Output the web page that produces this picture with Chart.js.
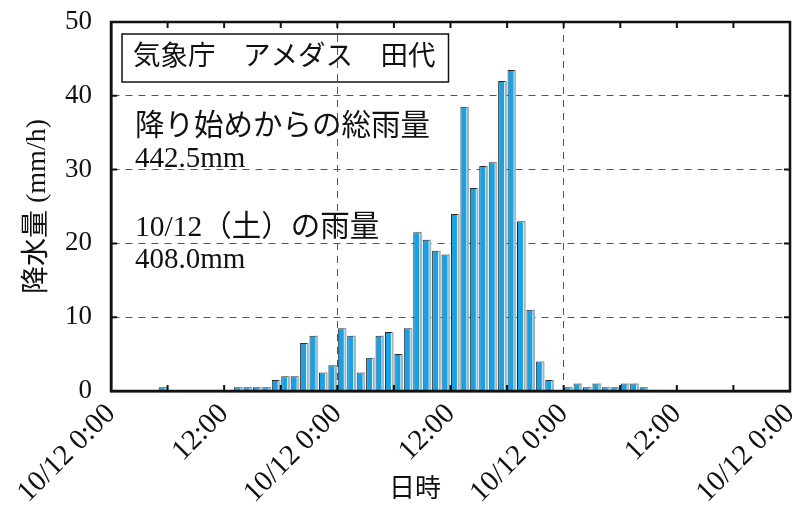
<!DOCTYPE html>
<html lang="ja">
<head>
<meta charset="utf-8">
<title>気象庁 アメダス 田代</title>
<script src="https://cdn.jsdelivr.net/npm/chart.js@4.4.0/dist/chart.umd.min.js"></script>
<style>
    html, body { margin: 0; padding: 0; background: #fff; }
</style>
</head>
<body>
<canvas id="graficoLluvia" width="794" height="505"></canvas>
<script>
// Precipitación horaria (mm/h), una barra por hora, tres días seguidos
const lluviaDia1 = [0, 0, 0, 0, 0, 0.5, 0, 0, 0, 0, 0, 0, 0, 0.5, 0.5, 0.5, 0.5, 1.5, 2, 2, 6.5, 7.5, 2.5, 3.5];
const lluviaDia2 = [8.5, 7.5, 2.5, 4.5, 7.5, 8, 5, 8.5, 21.5, 20.5, 19, 18.5, 24, 38.5, 27.5, 30.5, 31, 42, 43.5, 23, 11, 4, 1.5, 0];
const lluviaDia3 = [0.5, 1, 0.5, 1, 0.5, 0.5, 1, 1, 0.5, 0, 0, 0, 0, 0, 0, 0, 0, 0, 0, 0, 0, 0, 0, 0];

const etiquetasX = ['10/12 0:00', '12:00', '10/12 0:00', '12:00', '10/12 0:00', '12:00', '10/12 0:00'];
const ticksY = [0, 10, 20, 30, 40, 50];

const tituloEstacion = '気象庁　アメダス　田代';
const textosNota = ['降り始めからの総雨量', '442.5mm', '10/12（土）の雨量', '408.0mm'];
const tituloX = '日時';
const tituloY = '降水量 (mm/h)';

const graficoLluvia = {
    fuente: '"Liberation Serif", "Noto Sans CJK JP", serif',
    azul: '#1ba1e2',

    init: function () {
        Chart.defaults.font.family = this.fuente;
        Chart.defaults.color = '#111';

        const horas = lluviaDia1.concat(lluviaDia2, lluviaDia3);
        const puntos = horas.map((v, i) => ({ x: i + 0.5, y: v }));

        new Chart(document.getElementById('graficoLluvia'), {
            type: 'bar',
            data: {
                datasets: [{
                    data: puntos,
                    backgroundColor: this.azul,
                    borderColor: '#2a2a2a',
                    borderWidth: { left: 1, top: 1, right: 0, bottom: 0 },
                    borderSkipped: false,
                    categoryPercentage: 1,
                    barPercentage: 0.9
                }]
            },
            options: {
                responsive: false,
                devicePixelRatio: 1,
                animation: false,
                layout: { padding: { left: 21, top: 22, right: 4, bottom: 0 } },
                plugins: { legend: { display: false }, tooltip: { enabled: false } },
                scales: {
                    x: {
                        type: 'linear',
                        offset: false,
                        min: 0,
                        max: 72,
                        afterBuildTicks: scale => {
                            scale.ticks = etiquetasX.map((t, i) => ({ value: i * 12 }));
                        },
                        afterFit: scale => {
                            scale.paddingLeft = 0;
                            scale.paddingRight = 0;
                            scale.height = 114; // espacio fijo para las etiquetas giradas
                        },
                        ticks: {
                            autoSkip: false,
                            maxRotation: 45,
                            minRotation: 45,
                            padding: 6,
                            font: { size: 29 },
                            callback: (value) => etiquetasX[Math.round(value / 12)]
                        },
                        grid: {
                            offset: false,
                            drawTicks: false,
                            lineWidth: 1,
                            color: ctx => (ctx.tick && (ctx.tick.value === 24 || ctx.tick.value === 48)) ? '#555' : 'rgba(0,0,0,0)'
                        },
                        border: { display: true, color: '#111', width: 2.5, dash: [7, 6] }
                    },
                    y: {
                        min: 0,
                        max: 50,
                        afterBuildTicks: scale => {
                            scale.ticks = ticksY.map(v => ({ value: v }));
                        },
                        afterFit: scale => {
                            scale.paddingTop = 0;
                            scale.paddingBottom = 0;
                            scale.width = 90; // ancho fijo: título + números
                        },
                        ticks: { padding: 19, font: { size: 27 } },
                        grid: {
                            drawTicks: false,
                            lineWidth: 1,
                            color: ctx => (ctx.tick && ctx.tick.value > 0 && ctx.tick.value < 50) ? '#555' : 'rgba(0,0,0,0)'
                        },
                        border: { display: true, color: '#111', width: 2.5, dash: [7, 6] },
                        title: {
                            display: true,
                            text: tituloY,
                            font: { size: 28 },
                            padding: { top: 0, bottom: 0 }
                        }
                    }
                }
            },
            plugins: [this.pluginBarras(), this.pluginMarco(), this.pluginTextos()]
        });
    },

    // franja clara a la derecha de cada barra (efecto relieve)
    pluginBarras: function () {
        return {
            id: 'relieveBarras',
            afterDatasetsDraw: (chart) => {
                const ctx = chart.ctx;
                const meta = chart.getDatasetMeta(0);
                ctx.save();
                meta.data.forEach(el => {
                    const { x, y, base, width } = el.getProps(['x', 'y', 'base', 'width'], true);
                    const alto = base - y;
                    if (alto < 1) return;
                    const derecha = x + width / 2;
                    ctx.fillStyle = '#eef8fd';
                    ctx.fillRect(derecha - 2.5, y + 1, 1, alto - 1);
                    ctx.fillStyle = '#aab4ba';
                    ctx.fillRect(derecha - 1.5, y, 1.5, alto);
                });
                ctx.restore();
            }
        };
    },

    // marco grueso y marcas hacia dentro
    pluginMarco: function () {
        return {
            id: 'marcoGrafico',
            afterDatasetsDraw: (chart) => {
                const ctx = chart.ctx;
                const { left, right, top, bottom } = chart.chartArea;
                const sx = chart.scales.x;
                const sy = chart.scales.y;
                ctx.save();
                ctx.strokeStyle = '#111';
                ctx.lineWidth = 2.5;
                ctx.strokeRect(left, top, right - left, bottom - top);
                ctx.lineWidth = 2;
                ctx.beginPath();
                for (let h = 6; h < 72; h += 6) {
                    const px = sx.getPixelForValue(h);
                    ctx.moveTo(px, bottom); ctx.lineTo(px, bottom - 6);
                    ctx.moveTo(px, top); ctx.lineTo(px, top + 6);
                }
                ticksY.slice(1, -1).forEach(v => {
                    const py = sy.getPixelForValue(v);
                    ctx.moveTo(left, py); ctx.lineTo(left + 6, py);
                    ctx.moveTo(right, py); ctx.lineTo(right - 6, py);
                });
                ctx.stroke();
                ctx.restore();
            }
        };
    },

    // recuadro de la estación, totales y título del eje x
    pluginTextos: function () {
        const fuente = this.fuente;
        return {
            id: 'textosGrafico',
            afterDraw: (chart) => {
                const ctx = chart.ctx;
                const { left, top } = chart.chartArea;
                ctx.save();
                ctx.fillStyle = '#111';
                ctx.textBaseline = 'middle';
                ctx.textAlign = 'left';

                ctx.font = '27.5px ' + fuente;
                const anchoTitulo = ctx.measureText(tituloEstacion).width;
                ctx.strokeStyle = '#111';
                ctx.lineWidth = 1.5;
                ctx.strokeRect(left + 11, top + 12, anchoTitulo + 24, 48);
                ctx.fillText(tituloEstacion, left + 22, top + 36);

                ctx.font = '29.5px ' + fuente;
                ctx.fillText(textosNota[0], left + 24, top + 105);
                ctx.fillText(textosNota[2], left + 24, top + 206);
                ctx.font = '29px ' + fuente;
                ctx.fillText(textosNota[1], left + 24, top + 137);
                ctx.fillText(textosNota[3], left + 24, top + 238);

                ctx.textAlign = 'center';
                ctx.font = '26px ' + fuente;
                ctx.fillText(tituloX, 415, 490);
                ctx.restore();
            }
        };
    }
};

graficoLluvia.init();
</script>
</body>
</html>
